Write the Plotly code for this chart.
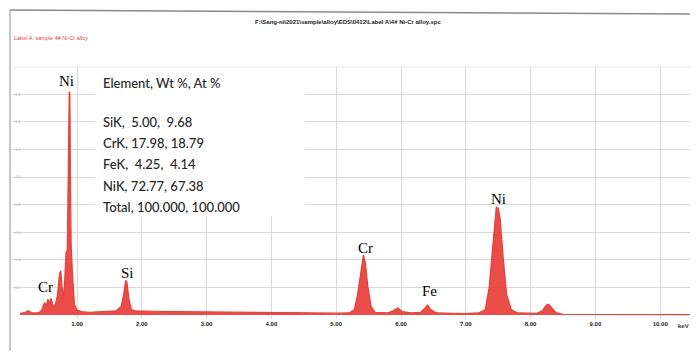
import plotly.graph_objects as go

# ---- data (energy in keV, intensity in arbitrary units) ----
energy_kev = [0.12, 0.20, 0.25, 0.30, 0.40, 0.45, 0.50, 0.53, 0.55, 0.57, 0.60, 0.63, 0.66,
              0.70, 0.73, 0.75, 0.77, 0.79, 0.81, 0.83, 0.85, 0.87, 0.88, 0.89, 0.90, 0.91,
              0.93, 0.96, 1.00, 1.10, 1.20, 1.40, 1.60, 1.68, 1.72, 1.75, 1.77, 1.80, 1.84,
              1.90, 2.00, 2.20, 2.50, 2.80, 3.00, 3.30, 3.50, 3.80, 4.00, 4.30, 4.50, 4.80,
              5.00, 5.20, 5.28, 5.33, 5.38, 5.42, 5.45, 5.49, 5.54, 5.60, 5.80, 5.88, 5.95,
              6.02, 6.15, 6.30, 6.36, 6.41, 6.46, 6.55, 6.80, 7.00, 7.20, 7.30, 7.36, 7.42,
              7.47, 7.50, 7.53, 7.58, 7.63, 7.70, 7.80, 8.10, 8.18, 8.24, 8.28, 8.33, 8.40,
              8.50, 9.00, 9.50, 10.00, 10.60]
counts = [0.010, 0.020, 0.032, 0.015, 0.015, 0.030, 0.090, 0.070, 0.115, 0.090, 0.120, 0.070, 0.060,
          0.150, 0.300, 0.320, 0.200, 0.120, 0.250, 0.450, 0.470, 1.200, 1.620, 1.600, 0.900, 0.500,
          0.300, 0.080, 0.035, 0.022, 0.020, 0.024, 0.030, 0.060, 0.150, 0.250, 0.240, 0.120, 0.040,
          0.030, 0.028, 0.027, 0.025, 0.023, 0.022, 0.021, 0.020, 0.019, 0.018, 0.016, 0.015, 0.014,
          0.013, 0.015, 0.040, 0.150, 0.330, 0.435, 0.380, 0.200, 0.060, 0.020, 0.015, 0.030, 0.050,
          0.025, 0.015, 0.020, 0.045, 0.073, 0.040, 0.015, 0.012, 0.010, 0.015, 0.040, 0.200, 0.550,
          0.780, 0.775, 0.700, 0.400, 0.150, 0.040, 0.015, 0.012, 0.030, 0.070, 0.078, 0.050, 0.015,
          0.005, 0.003, 0.003, 0.002, 0.002]

x_tick_vals = [1, 2, 3, 4, 5, 6, 7, 8, 9, 10]
x_tick_text = ["1.00", "2.00", "3.00", "4.00", "5.00", "6.00", "7.00", "8.00", "9.00", "10.00"]
y_tick_vals = [0.2, 0.4, 0.6, 0.8, 1.0, 1.2, 1.4, 1.6]
y_tick_text = ["0.2", "0.4", "0.6", "0.8", "1.0", "1.2", "1.4", "1.6"]

result_lines = ["Element, Wt %, At %", "SiK,  5.00,  9.68", "CrK, 17.98, 18.79",
                "FeK,  4.25,  4.14", "NiK, 72.77, 67.38", "Total, 100.000, 100.000"]

peak_labels = ["Ni", "Cr", "Si", "Cr", "Fe", "Ni"]

header_path = "F:\\Sang-ni\\2021\\sample\\alloy\\EDS\\0412\\Label A\\4# Ni-Cr alloy.spc"
header_label = "Label A: sample 4# Ni-Cr alloy"

# ---- layout helpers ----
# the page body has an 8 px margin on every side: the figure is made 16 px smaller
# (so the page does not overflow) and laid out 8 px up/left
OFF = 8
W, H = 698 - 2 * OFF, 359 - 2 * OFF
# plot area in screen pixels
PL, PR, PT, PB = 12, 690, 66, 319
L_M, R_M, T_M, B_M = PL - OFF, W - (PR - OFF), PT - OFF, H - (PB - OFF)
X0_PX, X_PER_KEV = 12.2, 64.8
Y0_PX, Y_PER_UNIT = 315.0, 138.0
XR = [(PL - X0_PX) / X_PER_KEV, (PR - X0_PX) / X_PER_KEV]
YR = [(Y0_PX - PB) / Y_PER_UNIT, (Y0_PX - PT) / Y_PER_UNIT]
PW, PH = PR - PL, PB - PT


def dx(px):
    return (px - X0_PX) / X_PER_KEV


def dy(py):
    return (Y0_PX - py) / Y_PER_UNIT


def pxp(px):
    return (px - PL) / PW


def pyp(py):
    return (PB - py) / PH


fig = go.Figure()
fig.add_trace(go.Scatter(
    x=energy_kev, y=counts, mode="lines", fill="tozeroy",
    line=dict(color="#e8403a", width=1.2), fillcolor="rgba(232,62,56,0.92)",
    hoverinfo="skip", showlegend=False))

# white box behind the results text
fig.add_shape(type="rect", xref="x", yref="y", x0=dx(95), x1=dx(305), y0=dy(216), y1=dy(62),
              fillcolor="white", line=dict(width=0), layer="between")

# results text
line_py = [83, 122, 143, 164, 186, 207]
for txt, py in zip(result_lines, line_py):
    fig.add_annotation(x=dx(102), y=dy(py), xref="x", yref="y", text=txt, showarrow=False,
                       xanchor="left", yanchor="middle", borderpad=0,
                       font=dict(family="Lato, Carlito, sans-serif", size=13, color="#262626",
                                 weight=500))

# peak labels
label_pos = [(66, 81), (45, 287), (127, 273), (365, 248), (429, 291), (498, 199)]
for txt, (px, py) in zip(peak_labels, label_pos):
    fig.add_annotation(x=dx(px), y=dy(py), xref="x", yref="y", text=txt, showarrow=False,
                       xanchor="center", yanchor="middle",
                       font=dict(family="Liberation Serif, DejaVu Serif, serif", size=15, color="#000"))

# header texts
fig.add_annotation(x=pxp(348), y=pyp(22), xref="paper", yref="paper", showarrow=False,
                   text="<b>" + header_path + "</b>",
                   font=dict(family="Arial, sans-serif", size=6, color="#222"),
                   xanchor="center", yanchor="middle")
fig.add_annotation(x=pxp(12), y=pyp(38), xref="paper", yref="paper", showarrow=False,
                   text=header_label,
                   font=dict(family="Arial, sans-serif", size=5.5, color="#e8403a"),
                   xanchor="left", yanchor="middle")
fig.add_annotation(x=pxp(690), y=pyp(326), xref="paper", yref="paper", showarrow=False,
                   text="<b>keV</b>", font=dict(family="Arial, sans-serif", size=6, color="#333"),
                   xanchor="right", yanchor="middle", borderpad=0)

# scanned page frame lines
fig.add_shape(type="line", xref="paper", yref="paper", x0=pxp(10), x1=pxp(690), y0=pyp(10), y1=pyp(14),
              line=dict(color="#8a8a8a", width=1.5))
fig.add_shape(type="line", xref="paper", yref="paper", x0=pxp(10), x1=pxp(10), y0=pyp(10), y1=pyp(351),
              line=dict(color="#b5b5b5", width=1.5))
fig.add_shape(type="line", xref="paper", yref="paper", x0=pxp(14), x1=pxp(690), y0=pyp(67), y1=pyp(67),
              line=dict(color="#e6e6e6", width=1))

fig.update_layout(
    width=W, height=H, margin=dict(l=L_M, r=R_M, t=T_M, b=B_M, autoexpand=False),
    paper_bgcolor="white", plot_bgcolor="white",
    xaxis=dict(range=XR, tickvals=x_tick_vals, ticktext=x_tick_text, showgrid=True,
               gridcolor="#dadada", gridwidth=1, zeroline=False, showline=False, ticks="",
               automargin=False,
               tickfont=dict(family="Arial, sans-serif", size=6, color="#222", weight="bold")),
    yaxis=dict(range=YR, tickvals=y_tick_vals, ticktext=y_tick_text, showgrid=True,
               gridcolor="#dadada", gridwidth=1, zeroline=False, showline=False, ticks="",
               ticklabelposition="inside", automargin=False,
               tickfont=dict(family="Arial, sans-serif", size=4, color="#aaa")),
)

fig.write_html("out.html")
